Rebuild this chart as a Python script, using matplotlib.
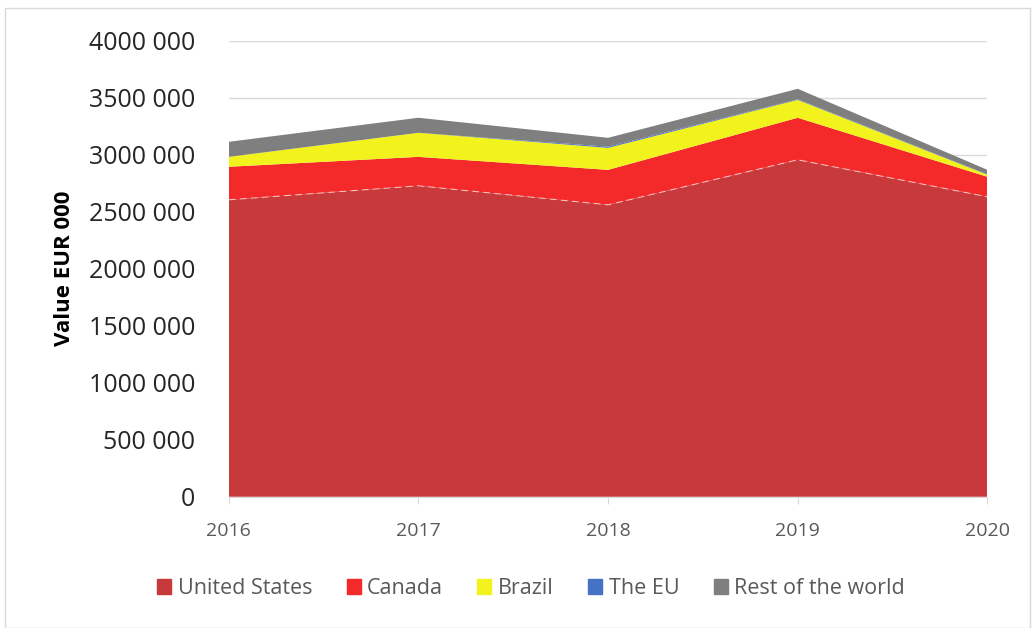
import matplotlib.pyplot as plt
import matplotlib.patches as mpatches
from matplotlib.ticker import FuncFormatter

years = [2016, 2017, 2018, 2019, 2020]
united_states = [2605000, 2728000, 2561000, 2956000, 2632000]
canada        = [290000, 254000, 307000, 369000, 175000]
brazil        = [87000, 211000, 193000, 157000, 18000]
the_eu        = [0, 0, 10000, 5000, 3000]
rest_world    = [132000, 132000, 78000, 92000, 40000]

labels = ["United States", "Canada", "Brazil", "The EU", "Rest of the world"]
colors = ["#C8393B", "#F42A2A", "#F2F21C", "#4472C4", "#7F7F7F"]

plt.rcParams["font.family"] = ["Open Sans", "DejaVu Sans"]

fig = plt.figure(figsize=(10.35, 6.28), dpi=100)
ax = fig.add_axes([0.221, 0.209, 0.733, 0.726])

ax.stackplot(years, united_states, canada, brazil, the_eu, rest_world,
             colors=colors, linewidth=0, zorder=2)
ax.plot(years, united_states, color="white", lw=0.8, ls=(0, (6, 4)), alpha=0.6, zorder=3)

ax.set_xlim(2016, 2020)
ax.set_ylim(0, 4000000)
ax.set_yticks(range(0, 4000001, 500000))
ax.yaxis.set_major_formatter(FuncFormatter(lambda v, p: "0" if v == 0 else "%d 000" % (v / 1000)))
ax.set_xticks(years)
ax.grid(axis="y", color="#D9D9D9", lw=1, zorder=0)
ax.set_axisbelow(True)
for s in ["top", "right", "left"]:
    ax.spines[s].set_visible(False)
ax.spines["bottom"].set_color("#D9D9D9")
ax.tick_params(axis="y", length=0, labelsize=18, labelcolor="#262626", pad=24)
ax.tick_params(axis="x", length=5, color="#D9D9D9", labelsize=14, labelcolor="#595959", pad=13)
ax.set_ylabel("Value EUR 000", fontsize=16, fontweight="bold", labelpad=10)

handles = [mpatches.Patch(color=c, label=l) for c, l in zip(colors, labels)]
fig.legend(handles=handles, loc="center", bbox_to_anchor=(0.513, 0.063), ncol=5,
           frameon=False, fontsize=15.5, labelcolor="#595959", handlelength=0.65,
           handleheight=0.65, handletextpad=0.3, columnspacing=1.6)

fig.patches.append(mpatches.Rectangle((0.005, 0.0), 0.99, 0.988, transform=fig.transFigure,
                                      fill=False, edgecolor="#D9D9D9", lw=1))

fig.savefig("out.png", dpi=100)
